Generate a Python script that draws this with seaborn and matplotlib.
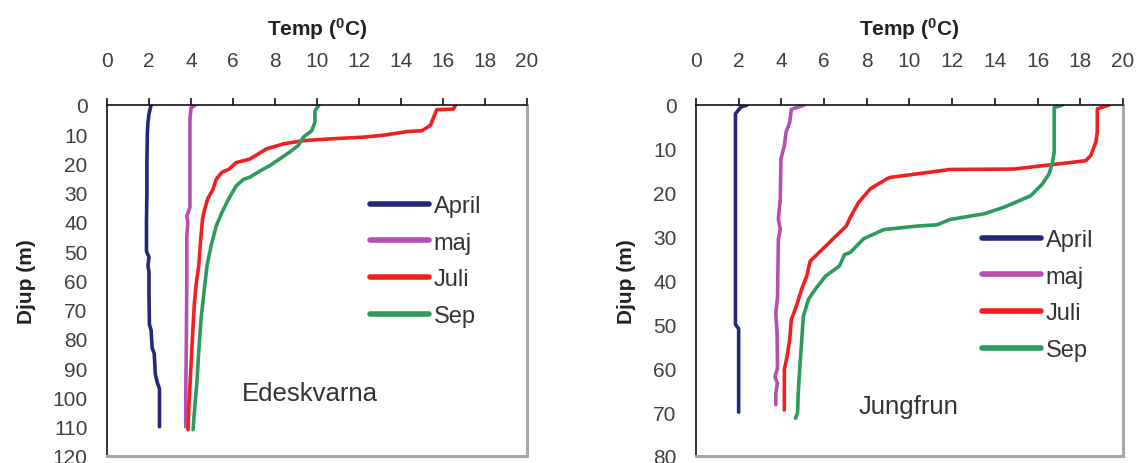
import pandas as pd
import seaborn as sns
import matplotlib.pyplot as plt

# --- DATA: Edeskvarna ---
ed_april_temp = [2.1, 2.0, 1.95, 1.92, 1.9, 1.9, 1.88, 1.88, 2.0, 1.95, 2.0, 2.0, 2.02, 2.1, 2.15, 2.25, 2.3, 2.4, 2.5, 2.5]
ed_april_djup = [0, 3, 6, 10, 20, 30, 40, 50, 52, 55, 57, 65, 75, 77, 83, 85, 92, 95, 97, 110]

ed_maj_temp = [4.2, 4.0, 3.95, 3.95, 3.95, 3.8, 3.85, 3.8, 3.8, 3.78, 3.75, 3.75]
ed_maj_djup = [0, 1, 5, 20, 35, 38, 40, 45, 60, 80, 100, 110]

ed_juli_temp = [16.6, 16.5, 15.7, 15.4, 15.0, 14.3, 13.2, 12.2, 10.6, 9.35, 8.4, 7.6, 6.8, 6.15, 5.8,
                5.47, 5.2, 5.05, 4.8, 4.65, 4.55, 4.45, 4.37, 4.25, 4.16, 4.08, 3.98, 3.9, 3.86]
ed_juli_djup = [0, 1.4, 1.6, 7, 8.8, 9.1, 10.3, 11, 11.6, 12.2, 13.3, 15, 18.5, 19.7, 22,
                23, 25.4, 28.8, 32, 35.7, 39, 47, 55, 61, 68, 78, 92, 103, 111]

ed_sep_temp = [10.1, 9.9, 9.9, 9.75, 9.35, 9.1, 8.7, 7.76, 7.3, 6.8, 6.5, 6.15, 5.8, 5.47,
               5.2, 4.96, 4.76, 4.62, 4.48, 4.37, 4.28, 4.16, 4.1]
ed_sep_djup = [0, 2, 5.9, 8.8, 11, 13.9, 16.1, 20.7, 22.5, 24.7, 25.4, 27.7, 32, 36.8,
               41.4, 48, 55, 64, 73, 84, 95, 105, 111]

# --- DATA: Jungfrun ---
ju_april_temp = [2.4, 2.1, 1.85, 1.85, 2.0, 2.0]
ju_april_djup = [0, 0.5, 2, 50, 51, 70]

ju_maj_temp = [5.07, 4.47, 4.39, 4.22, 4.14, 3.98, 3.95, 3.86, 3.95, 3.86, 3.82, 3.74, 3.8, 3.82, 3.7, 3.82, 3.74, 3.74]
ju_maj_djup = [0, 1, 4, 6.2, 9.3, 12.3, 21.5, 26, 28.3, 30.6, 44, 47.4, 52, 60, 62, 63.4, 65.7, 68.3]

ju_juli_temp = [19.35, 18.8, 18.8, 18.73, 18.5, 18.26, 17.4, 16.3, 14.9, 11.9, 10.36, 9.1, 8.95, 8.17,
                7.62, 7.23, 7.04, 6.55, 6.07, 5.35, 5.19, 4.95, 4.7, 4.47, 4.39, 4.27, 4.14, 4.14]
ju_juli_djup = [0, 0.9, 6.2, 8.5, 11.5, 12.7, 13.2, 13.8, 14.6, 14.7, 15.7, 16.5, 16.8, 19.1,
                22.2, 25.6, 27.6, 29.9, 32.2, 35.6, 39, 42, 45.9, 48.9, 53.5, 57.3, 60.3, 69.5]

ju_sep_temp = [17.17, 16.78, 16.78, 16.7, 16.54, 16.23, 15.68, 14.43, 13.5, 11.9, 11.3, 10.36, 8.8, 7.85,
               7.23, 6.96, 6.72, 6.07, 5.59, 5.27, 5.03, 4.95, 4.87, 4.79, 4.76, 4.66]
ju_sep_djup = [0, 0.6, 10.8, 13.1, 15.7, 18, 20.7, 23.3, 24.8, 26.1, 27.3, 27.6, 28.4, 30.5,
               33.6, 34.1, 36.7, 39, 42, 44.3, 48.2, 53.9, 59.6, 65.7, 70.2, 71.4]

manader = ['April', 'maj', 'Juli', 'Sep']
farger = ['#25287a', '#b350b0', '#f02020', '#2d9a5e']
xticks = list(range(0, 21, 2))


def bygg_df(serier):
    delar = []
    for namn, (t, d) in zip(manader, serier):
        delar.append(pd.DataFrame({'temp': t, 'djup': d, 'manad': namn}))
    return pd.concat(delar, ignore_index=True)


df_ed = bygg_df([(ed_april_temp, ed_april_djup), (ed_maj_temp, ed_maj_djup),
                 (ed_juli_temp, ed_juli_djup), (ed_sep_temp, ed_sep_djup)])
df_ju = bygg_df([(ju_april_temp, ju_april_djup), (ju_maj_temp, ju_maj_djup),
                 (ju_juli_temp, ju_juli_djup), (ju_sep_temp, ju_sep_djup)])

sns.set_theme(style="white")
plt.rcParams['font.family'] = ['Liberation Sans', 'DejaVu Sans']
plt.rcParams['mathtext.fontset'] = 'custom'
plt.rcParams['mathtext.rm'] = 'Liberation Sans'
plt.rcParams['mathtext.bf'] = 'Liberation Sans:bold'

fig = plt.figure(figsize=(11.37, 4.64), dpi=100)
ax1 = fig.add_axes([0.0941, 0.0151, 0.3694, 0.7565])
ax2 = fig.add_axes([0.6121, 0.0151, 0.3755, 0.7565])

paneler = [
    (ax1, df_ed, 120, list(range(0, 121, 10)), 'Edeskvarna', (6.4, 98.5), (370, 196)),
    (ax2, df_ju, 80, list(range(0, 81, 10)), 'Jungfrun', (7.6, 68.6), (982, 230)),
]

for ax, df, ymax, yticks, namn, textpos, legpos in paneler:
    sns.lineplot(data=df, x='temp', y='djup', hue='manad', hue_order=manader,
                 palette=farger, sort=False, estimator=None, linewidth=2.6, ax=ax)
    ax.set_xlim(0, 20)
    ax.set_ylim(ymax, 0)
    ax.set_xticks(xticks)
    ax.set_yticks(yticks)
    ax.xaxis.tick_top()
    ax.xaxis.set_label_position('top')
    ax.tick_params(axis='x', direction='out', length=5, width=1.2, pad=20,
                   labelsize=15, colors='#111111', labelcolor='#404040')
    ax.tick_params(axis='y', direction='out', length=5, width=1.2, pad=9,
                   labelsize=15, colors='#111111', labelcolor='#404040')
    ax.set_xlabel(r'Temp ($\mathbf{^{0}}$C)', fontsize=15, fontweight='bold', labelpad=12, color='#222222')
    ax.set_ylabel('Djup (m)', fontsize=15, fontweight='bold', labelpad=12, color='#222222')
    for s in ['top', 'left']:
        ax.spines[s].set_color('#111111')
        ax.spines[s].set_linewidth(1.2)
    for s in ['right', 'bottom']:
        ax.spines[s].set_color('#a8a8a8')
        ax.spines[s].set_linewidth(2.2)
    ax.text(textpos[0], textpos[1], namn, fontsize=18.5, color='#333333', va='center', ha='left')

    handles, labels = ax.get_legend_handles_labels()
    leg = ax.legend(handles, labels, loc='upper left', frameon=False,
                    bbox_to_anchor=(legpos[0] / 1137, 1 - legpos[1] / 464),
                    bbox_transform=fig.transFigure, borderpad=0, borderaxespad=0,
                    fontsize=17, handlelength=2.5, handletextpad=0.2, labelspacing=0.62)
    for h in leg.get_lines():
        h.set_linewidth(4)
        h.set_solid_capstyle('round')
    for t in leg.get_texts():
        t.set_color('#333333')

plt.savefig('out.png', dpi=100)
